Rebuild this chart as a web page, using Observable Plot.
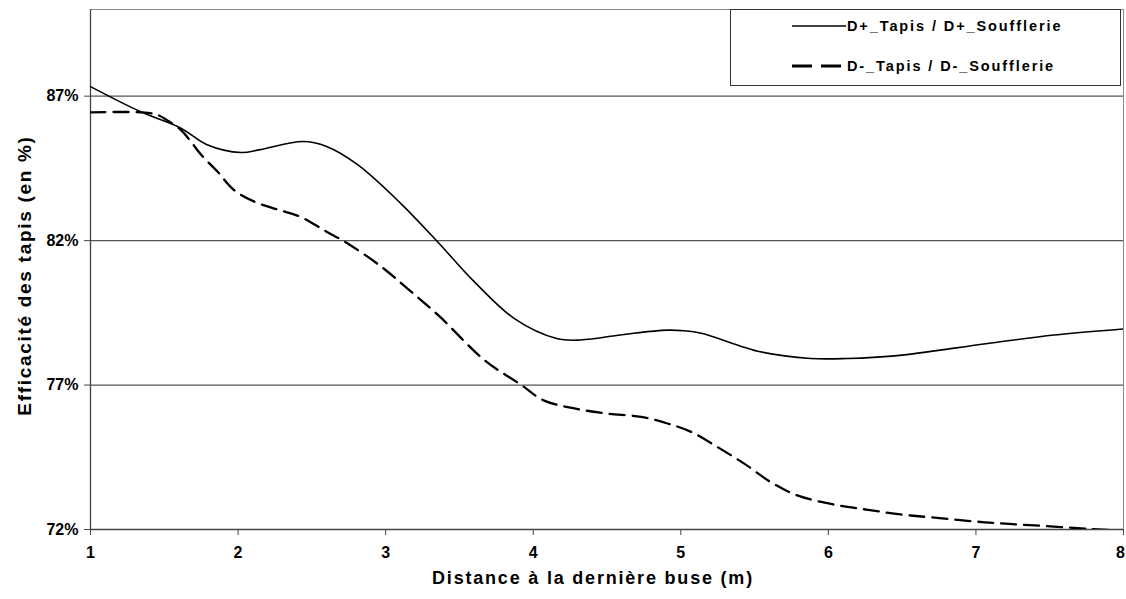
<!DOCTYPE html>
<html>
<head>
<meta charset="utf-8">
<script src="https://cdn.jsdelivr.net/npm/d3@7"></script>
<script src="https://cdn.jsdelivr.net/npm/@observablehq/plot@0.6"></script>
<style>
  body { margin: 0; background: #fff; }
  #wrap { position: relative; width: 1126px; height: 599px; font-family: "Liberation Sans", Arial, sans-serif; }
  #legend { position: absolute; left: 730px; top: 9px; width: 391px; height: 77px; border: 1px solid #333; background: #fff; box-sizing: border-box; font-weight: bold; font-size: 14.5px; letter-spacing: 1.9px; color: #000; }
  #legend .row { position: absolute; left: 61px; display: flex; align-items: center; white-space: nowrap; }
  #legend svg { margin-right: 1px; }
  .xtitle text { letter-spacing: 1.8px; }
  .ytitle text { letter-spacing: 1.7px; }
</style>
</head>
<body>
<div id="wrap">
  <div id="chart"></div>
  <div id="legend"></div>
</div>
<script>
const dPlusX = [1.0, 1.34, 1.61, 1.79, 2.02, 2.15, 2.44, 2.6, 2.81, 3.1, 3.35, 3.6, 3.87, 4.16, 4.32, 4.64, 4.91, 5.02, 5.14, 5.54, 5.88, 6.13, 6.45, 7.08, 7.53, 8.0];
const dPlusY = [87.33, 86.46, 85.9, 85.32, 85.05, 85.15, 85.43, 85.26, 84.63, 83.3, 81.97, 80.58, 79.31, 78.61, 78.56, 78.77, 78.9, 78.88, 78.79, 78.15, 77.92, 77.92, 78.01, 78.44, 78.73, 78.94];

const dMinusX = [1.0, 1.34, 1.45, 1.53, 1.61, 1.68, 1.75, 1.86, 1.97, 2.11, 2.27, 2.42, 2.6, 2.74, 2.97, 3.15, 3.36, 3.67, 3.92, 4.07, 4.28, 4.5, 4.73, 4.91, 5.07, 5.25, 5.43, 5.61, 5.79, 6.04, 6.27, 6.49, 6.72, 7.06, 7.4, 7.78, 8.0];
const dMinusY = [86.44, 86.44, 86.36, 86.13, 85.84, 85.43, 84.97, 84.39, 83.76, 83.35, 83.07, 82.83, 82.31, 81.91, 81.1, 80.33, 79.4, 77.86, 77.0, 76.47, 76.19, 76.01, 75.9, 75.67, 75.38, 74.85, 74.28, 73.64, 73.18, 72.86, 72.68, 72.52, 72.41, 72.25, 72.14, 72.02, 71.95];

const xTicks = [1, 2, 3, 4, 5, 6, 7, 8];
const xLastTick = [8];
const yTicks = [72, 77, 82, 87];
const gridValues = [77, 82, 87];
const seriesNames = ["D+_Tapis / D+_Soufflerie", "D-_Tapis / D-_Soufflerie"];
const xTitle = "Distance à la dernière buse (m)";
const yTitle = "Efficacité des tapis (en %)";

const dPlus = dPlusX.map((x, i) => ({x, y: dPlusY[i]}));
const dMinus = dMinusX.map((x, i) => ({x, y: dMinusY[i]}));

const tickStyle = { tickSize: 6, tickPadding: 11, fontSize: 16, fontWeight: "bold", label: null, stroke: "#444" };

const chart = Plot.plot({
  width: 1126,
  height: 599,
  marginLeft: 90,
  marginRight: 3,
  marginTop: 9,
  marginBottom: 70,
  style: { fontFamily: "'Liberation Sans', Arial, sans-serif", background: "#fff", color: "#000" },
  x: { domain: [1, 8] },
  y: { domain: [72, 90] },
  marks: [
    Plot.ruleY(gridValues, { stroke: "#555", strokeWidth: 1.2 }),
    Plot.frame({ stroke: "#8a8a8a", strokeWidth: 1 }),
    Plot.ruleX([1], { stroke: "#444", strokeWidth: 1.3 }),
    Plot.ruleY([72], { stroke: "#444", strokeWidth: 1.3 }),
    Plot.axisX({ ...tickStyle, ticks: xTicks, tickFormat: d => (d === 8 ? "" : String(d)) }),
    Plot.axisX({ ...tickStyle, ticks: xLastTick, tickFormat: d => String(d), tickSize: 0, tickPadding: 17, dx: -3 }),
    Plot.axisY({ ticks: yTicks, tickFormat: d => d + "%", tickSize: 6, tickPadding: 6, fontSize: 16, fontWeight: "bold", label: null, stroke: "#444" }),
    Plot.line(dPlus, { x: "x", y: "y", curve: "catmull-rom", stroke: "#000", strokeWidth: 1.6, clip: true }),
    Plot.line(dMinus, { x: "x", y: "y", curve: "catmull-rom", stroke: "#000", strokeWidth: 2.3, strokeDasharray: "15,8", clip: true }),
    Plot.text([xTitle], { frameAnchor: "bottom", dx: -14, dy: 54, fontSize: 18, fontWeight: "bold", fill: "#000", className: "xtitle" }),
    Plot.text([yTitle], { frameAnchor: "left", textAnchor: "middle", dx: -66, dy: 6, rotate: -90, fontSize: 19, fontWeight: "bold", fill: "#000", className: "ytitle" })
  ]
});
document.getElementById("chart").appendChild(chart);

const legend = document.getElementById("legend");
const dashes = [null, "20,9"];
const widths = [1.6, 3];
seriesNames.forEach((name, i) => {
  const row = document.createElement("div");
  row.className = "row";
  row.style.top = (i === 0 ? 8 : 48) + "px";
  row.innerHTML = `<svg width="54" height="16"><line x1="0" x2="54" y1="8" y2="8" stroke="#000" stroke-width="${widths[i]}" ${dashes[i] ? `stroke-dasharray="${dashes[i]}"` : ""}/></svg><span>${name}</span>`;
  legend.appendChild(row);
});
</script>
</body>
</html>
